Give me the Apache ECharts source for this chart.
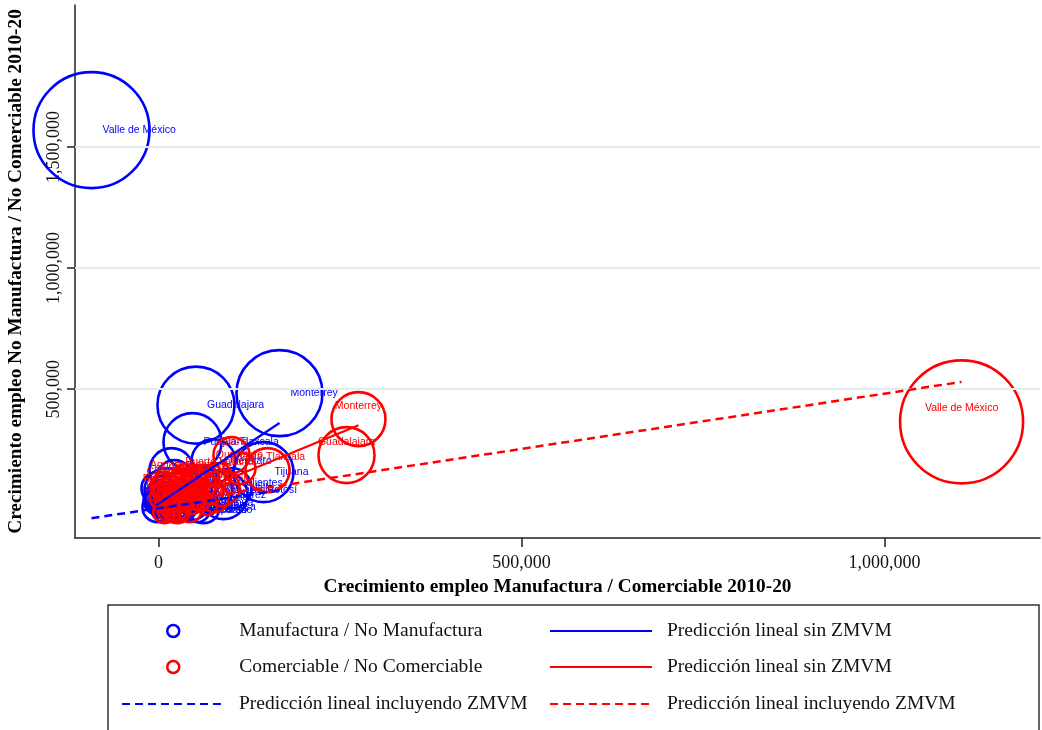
<!DOCTYPE html>
<html><head><meta charset="utf-8">
<script src="https://cdn.jsdelivr.net/npm/echarts@6/dist/echarts.min.js"></script>
<style>html,body{margin:0;padding:0;background:#fff}#c{width:1042px;height:730px}</style>
</head><body><div id="c"></div>
<script>
// ---- Data: Manufactura / No Manufactura (blue) ----
const manufNames = ['Valle de México','Monterrey','Guadalajara','Puebla-Tlaxcala','Tijuana','Querétaro','Aguascalientes','San Luis Potosí','Juárez','Reynosa','León','Saltillo','Toluca','Mérida','Chihuahua','Hermosillo','Mexicali','La Laguna','Celaya','Cancún','Morelia','Tampico','Veracruz','Cuernavaca','Acapulco','Villahermosa','Culiacán','Matamoros','Nuevo Laredo','Irapuato','Xalapa','Oaxaca','Tuxtla Gutiérrez','Pachuca','Durango','Puerto Vallarta'];
const manufX = [-92300,166600,51600,46800,144600,75700,57800,74400,89500,62000,17900,100500,11000,22000,45400,40000,31700,26200,15100,-1400,1400,5500,-1400,8300,-4100,1400,11000,35800,23400,53700,-2800,-1400,1400,5500,15100,4100];
const manufY = [1570000,483400,433900,281000,157000,202500,111600,82600,62000,12400,165300,90900,82600,132200,28900,53700,20700,41300,28900,90900,53700,20700,12400,4100,41300,70200,53700,8300,0,0,33100,66100,20700,45500,66100,99200];
const manufW = [5000,2750,2204,1251,1338,720,482,595,857,381,720,595,720,482,430,381,381,482,291,381,335,251,335,251,214,251,214,180,149,214,214,180,180,180,149,149];

// ---- Data: Comerciable / No Comerciable (red) ----
const comerNames = ['Valle de México','Monterrey','Guadalajara','Tijuana','Querétaro','Puebla-Tlaxcala','Aguascalientes','Reynosa','León','San Luis Potosí','Juárez','Saltillo','Toluca','Chihuahua','Hermosillo','Mexicali','La Laguna','Celaya','Mérida','Cancún','Morelia','Veracruz','Cuernavaca','Tampico','Acapulco','Villahermosa','Culiacán','Matamoros','Nuevo Laredo','Irapuato','Xalapa','Oaxaca','Pachuca','Durango','Puerto Vallarta','Ensenada','Tepic','Zacatecas','Colima'];
const comerX = [1106000,275400,258900,100500,111500,150100,37200,15100,56500,70200,86800,63300,28900,49600,40000,77100,23400,45400,17900,8300,12400,22000,26200,35800,12000,30000,31700,56500,67500,42700,15100,8000,22000,49600,84000,11000,19300,30300,6000];
const comerY = [364900,376000,227300,227300,173500,165300,132200,49600,103300,82600,90900,124000,62000,62000,90900,49600,20700,33100,82600,103300,41300,12400,0,41300,33100,62000,124000,41300,20700,0,0,-8300,103300,124000,144600,74400,28900,111600,53700];
const comerW = [5625,1084,1166,482,381,720,291,214,381,291,482,335,381,291,251,291,335,214,291,251,214,291,251,180,214,214,214,180,149,214,214,180,214,214,214,251,251,214,251];

// ---- Linear predictions (endpoints) ----
const manufFitAll = [[-92300,-33000],[166600,82000]];
const manufFitSin = [[-4100,18600],[166600,360000]];
const comerFitSin = [[6000,16500],[275400,351000]];
const comerFitAll = [[6000,27400],[1106000,530000]];

// ---- Ticks ----
const xTicks = [0,500000,1000000];
const yTicks = [500000,1000000,1500000];

const BLUE = '#0000ff';
const RED = '#ff0000';
const SERIF = 'Liberation Serif';
const SANS = 'Liberation Sans';

const fmt = v => v.toLocaleString('en-US');
const pts = (xs, ys, ws, ns) => xs.map((x,i)=>[x, ys[i], ws[i], ns[i]]);
const bubbleSize = v => 1.64*Math.sqrt(v[2]);

const chart = echarts.init(document.getElementById('c'), null, {renderer:'canvas'});
const legendText = {fontFamily: SERIF, fontSize: 19.5, color: '#111', lineHeight: 20};
const lineLegend = (name, left, top) => ({data: [name], left: left, top: top, padding: 0, itemWidth: 102, itemHeight: 14,
  itemStyle: {opacity: 0}, textStyle: Object.assign({padding: [0,0,0,10]}, legendText), selectedMode: false});
chart.setOption({
  animation: false,
  backgroundColor: '#fff',
  grid: {left: 75, right: 2, top: 5, bottom: 192, containLabel: false, outerBoundsMode: 'none'},
  xAxis: {
    type: 'value', min: -115000, max: 1214000,
    name: 'Crecimiento empleo Manufactura / Comerciable 2010-20',
    nameLocation: 'middle', nameGap: 40,
    nameTextStyle: {fontFamily: SERIF, fontWeight: 'bold', fontSize: 19.3, color: '#000'},
    axisLine: {show: true, onZero: false, lineStyle: {color: '#222', width: 1.5}},
    axisTick: {show: true, length: 9, customValues: xTicks, lineStyle: {color: '#222', width: 1.5}},
    axisLabel: {customValues: xTicks, formatter: fmt, margin: 16, fontFamily: SERIF, fontSize: 18, color: '#111'},
    splitLine: {show: false}
  },
  yAxis: {
    type: 'value', min: -115000, max: 2087000,
    name: 'Crecimiento empleo No Manufactura / No Comerciable 2010-20',
    nameLocation: 'middle', nameGap: 49, nameRotate: 90,
    nameTextStyle: {fontFamily: SERIF, fontWeight: 'bold', fontSize: 19.3, color: '#000'},
    axisLine: {show: true, onZero: false, lineStyle: {color: '#222', width: 1.5}},
    axisTick: {show: true, length: 8, customValues: yTicks, lineStyle: {color: '#222', width: 1.5}},
    axisLabel: {customValues: yTicks, formatter: fmt, rotate: 90, margin: 12, fontFamily: SERIF, fontSize: 18, color: '#111'},
    splitLine: {show: false}
  },
  legend: [
    {data: ['Manufactura / No Manufactura'], left: 166, top: 621, padding: 0, itemWidth: 12, itemHeight: 12, icon: 'circle',
     itemStyle: {color: '#fff', borderColor: BLUE, borderWidth: 2.5}, textStyle: Object.assign({padding: [0,0,0,55]}, legendText), selectedMode: false},
    {data: ['Comerciable / No Comerciable'], left: 166, top: 657, padding: 0, itemWidth: 12, itemHeight: 12, icon: 'circle',
     itemStyle: {color: '#fff', borderColor: RED, borderWidth: 2.5}, textStyle: Object.assign({padding: [0,0,0,55]}, legendText), selectedMode: false},
    lineLegend('Predicción lineal incluyendo ZMVM', 121, 694),
    lineLegend('Predicción lineal sin ZMVM', 549, 621),
    lineLegend('Predicción lineal sin ZMVM ', 549, 657),
    lineLegend('Predicción lineal incluyendo ZMVM ', 549, 694)
  ],
  graphic: [
    {type: 'rect', shape: {x: 108, y: 605, width: 931, height: 140}, style: {fill: 'none', stroke: '#333', lineWidth: 1.5}, silent: true}
  ],
  series: [
    {type: 'line', name: 'grid', data: [], z: 0, silent: true,
     markLine: {silent: true, symbol: 'none', label: {show: false}, animation: false,
       lineStyle: {color: '#e3ecef', width: 2, type: 'solid'},
       data: yTicks.map(v => ({yAxis: v}))}},
    {type: 'scatter', name: 'Manufactura / No Manufactura', z: 2,
     data: pts(manufX, manufY, manufW, manufNames), symbol: 'circle', symbolSize: bubbleSize,
     itemStyle: {color: 'rgba(0,0,0,0)', borderColor: BLUE, borderWidth: 2.6, opacity: 1},
     label: {show: true, position: 'inside', align: 'left', offset: [11, 0], formatter: p => p.data[3],
       fontFamily: SANS, fontSize: 10.5, color: BLUE},
     emphasis: {disabled: true}},
    {type: 'scatter', name: 'Comerciable / No Comerciable', z: 3,
     data: pts(comerX, comerY, comerW, comerNames), symbol: 'circle', symbolSize: bubbleSize,
     itemStyle: {color: 'rgba(0,0,0,0)', borderColor: RED, borderWidth: 2.6, opacity: 1},
     label: {show: true, position: 'inside', offset: [0, -13.5], formatter: p => p.data[3],
       fontFamily: SANS, fontSize: 10.5, color: RED},
     emphasis: {disabled: true}},
    {type: 'line', name: 'Predicción lineal incluyendo ZMVM', z: 4, data: manufFitAll, symbol: 'none',
     lineStyle: {color: BLUE, width: 2.5, type: [8, 5]}, itemStyle: {color: BLUE}, emphasis: {disabled: true}},
    {type: 'line', name: 'Predicción lineal sin ZMVM', z: 4, data: manufFitSin, symbol: 'none',
     lineStyle: {color: BLUE, width: 2.2, type: 'solid'}, itemStyle: {color: BLUE}, emphasis: {disabled: true}},
    {type: 'line', name: 'Predicción lineal sin ZMVM ', z: 5, data: comerFitSin, symbol: 'none',
     lineStyle: {color: RED, width: 2.2, type: 'solid'}, itemStyle: {color: RED}, emphasis: {disabled: true}},
    {type: 'line', name: 'Predicción lineal incluyendo ZMVM ', z: 5, data: comerFitAll, symbol: 'none',
     lineStyle: {color: RED, width: 2.5, type: [8, 5]}, itemStyle: {color: RED}, emphasis: {disabled: true}}
  ]
});
</script>
</body></html>
